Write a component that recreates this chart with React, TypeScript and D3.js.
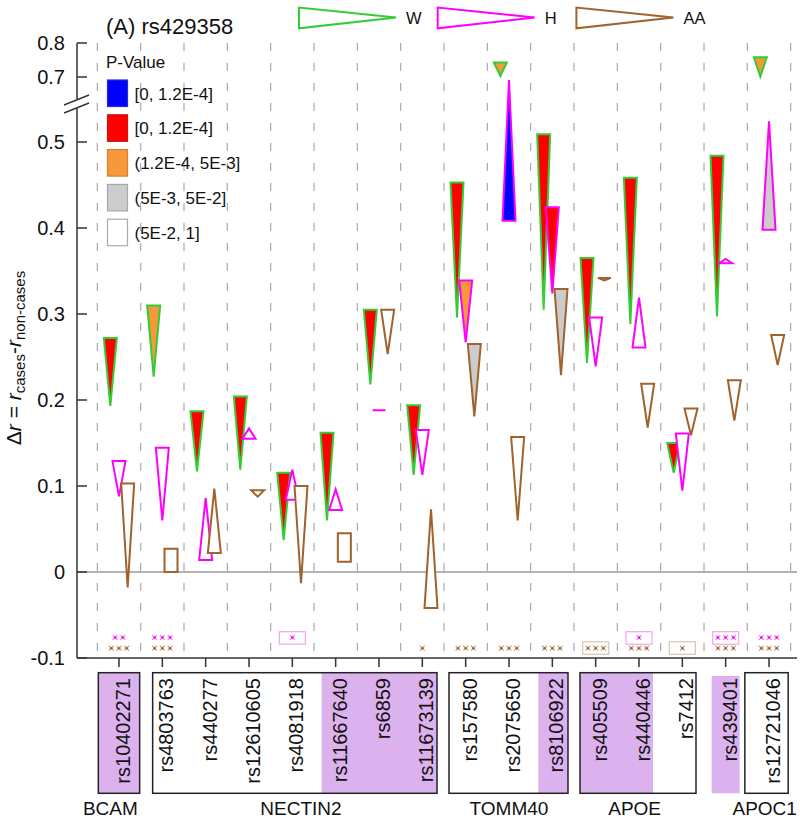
import React from 'react';
import * as d3 from 'd3';

// ---------- data ----------
const snps = ['rs10402271', 'rs4803763', 'rs440277', 'rs12610605', 'rs4081918', 'rs11667640', 'rs6859', 'rs11673139',
  'rs157580', 'rs2075650', 'rs8106922', 'rs405509', 'rs440446', 'rs7412', 'rs439401', 'rs12721046'];
const genes = ['BCAM', 'NECTIN2', 'TOMM40', 'APOE', 'APOC1'];
const geneFirst = [0, 1, 8, 11, 15];
const geneLast = [0, 7, 10, 13, 15];
const highlighted = ['rs10402271', 'rs11667640', 'rs6859', 'rs11673139', 'rs8106922', 'rs405509', 'rs440446', 'rs439401'];

const groups = ['W', 'H', 'AA'];
// [flat end, tip end, p-value class]
const wDelta: [number, number, string][] = [
  [0.272, 0.193, 'r'], [0.310, 0.227, 'o'], [0.187, 0.117, 'r'], [0.204, 0.119, 'r'],
  [0.1155, 0.037, 'r'], [0.162, 0.060, 'r'], [0.305, 0.218, 'r'], [0.194, 0.113, 'r'],
  [0.453, 0.296, 'r'], [0.743, 0.703, 'o'], [0.509, 0.305, 'r'], [0.365, 0.243, 'r'],
  [0.4585, 0.288, 'r'], [0.150, 0.1155, 'r'], [0.484, 0.297, 'r'], [0.758, 0.701, 'o'],
];
const hDelta: [number, number, string][] = [
  [0.129, 0.088, 'w'], [0.1446, 0.060, 'w'], [0.014, 0.086, 'w'], [0.155, 0.167, 'w'],
  [0.084, 0.119, 'w'], [0.072, 0.096, 'w'], [0.188, 0.188, 'w'], [0.165, 0.113, 'w'],
  [0.339, 0.267, 'o'], [0.4085, 0.691, 'b'], [0.424, 0.324, 'r'], [0.296, 0.239, 'w'],
  [0.261, 0.319, 'w'], [0.161, 0.0946, 'w'], [0.359, 0.364, 'w'], [0.398, 0.524, 'g'],
];
const aaDelta: [number, number, string][] = [
  [0.103, -0.018, 'w'], [0.027, 0.0, 'w'], [0.022, 0.097, 'w'], [0.095, 0.0876, 'w'],
  [0.100, -0.013, 'w'], [0.045, 0.012, 'w'], [0.305, 0.2535, 'w'], [-0.042, 0.073, 'w'],
  [0.265, 0.181, 'g'], [0.157, 0.060, 'w'], [0.329, 0.229, 'g'], [0.342, 0.339, 'w'],
  [0.219, 0.168, 'w'], [0.190, 0.159, 'w'], [0.223, 0.176, 'w'], [0.2756, 0.2407, 'w'],
];
const aaShape = ['t', 'r', 't', 't', 't', 'r', 't', 't', 't', 't', 't', 't', 't', 't', 't', 't'];

const hStars = [2, 3, 0, 0, 1, 0, 0, 0, 0, 0, 0, 0, 1, 0, 3, 3];
const hBoxed = [0, 0, 0, 0, 1, 0, 0, 0, 0, 0, 0, 0, 1, 0, 1, 0];
const aaStars = [3, 3, 0, 0, 0, 0, 0, 1, 3, 3, 3, 3, 3, 1, 3, 3];
const aaBoxed = [0, 0, 0, 0, 0, 0, 0, 0, 0, 0, 0, 1, 0, 1, 0, 0];

const pClasses = ['b', 'r', 'o', 'g', 'w'];
const pLabels = ['[0, 1.2E-4]', '[0, 1.2E-4]', '(1.2E-4, 5E-3]', '(5E-3, 5E-2]', '(5E-2, 1]'];
const yTicks = [-0.1, 0, 0.1, 0.2, 0.3, 0.4, 0.5, 0.7, 0.8];

// ---------- styles ----------
const FONT = 'Liberation Sans, Arial, Helvetica, sans-serif';
const fillOf: Record<string, string> = { b: '#0000ff', r: '#ff0000', o: '#f7993a', g: '#cccccc', w: '#ffffff' };
const swatchStroke: Record<string, string> = { b: '#2a2ad0', r: '#d01010', o: '#d88030', g: '#a8a8a8', w: '#aaaaaa' };
const groupColor: Record<string, string> = { W: '#33cc33', H: '#ff00ff', AA: '#a0632d' };
const PURPLE = '#dcb2ee';
const geneLabelPos = [-0.2, 4.2, 9.0, 11.9, 14.9];
const boxPad = [[1, 1], [12, 7], [5, 6], [6, 8], [-2.5, 2.5]];

export default function App() {
  const W = 800, H = 820;
  const x = d3.scaleBand<string>().domain(snps).range([97.33, 790.67]).padding(0);
  const bw = x.bandwidth();
  const cx = (s: string) => (x(s) as number) + bw / 2;
  const y = d3.scaleLinear().domain([-0.1, 0.54, 0.64, 0.8]).range([658, 107.6, 97.4, 43]);

  const axisLeft = 77, axisRight = 797, axisBottom = y(-0.1);
  const triW = bw * 0.3;
  const offsets = [-bw * 0.2, 0, bw * 0.2];
  const series = [wDelta, hDelta, aaDelta];

  const shapePath = (c: number, yf: number, yt: number, rect: boolean) =>
    rect
      ? `M${c - triW / 2},${yf}L${c + triW / 2},${yf}L${c + triW / 2},${yt}L${c - triW / 2},${yt}Z`
      : `M${c - triW / 2},${yf}L${c + triW / 2},${yf}L${c},${yt}Z`;

  const boundaries = d3.range(snps.length + 1).map(k => 97.33 + k * bw);

  const markers = (c: number, yy: number, n: number, col: string, dot: string, key: string) =>
    d3.range(n).map(i => {
      const mx = c + (i - (n - 1) / 2) * 7.7;
      const r = 2.4;
      return (
        <g key={key + i}>
          <path d={`M${mx - r},${yy - r}L${mx + r},${yy + r}M${mx - r},${yy + r}L${mx + r},${yy - r}`} stroke={col} strokeWidth={1.3} />
          <circle cx={mx} cy={yy} r={1.3} fill={dot} />
        </g>
      );
    });

  // highlight runs
  const hlRects: { x0: number; x1: number; y0: number }[] = [];
  snps.forEach((s, i) => {
    if (!highlighted.includes(s)) return;
    const gi = genes.findIndex((_, g) => i >= geneFirst[g] && i <= geneLast[g]);
    let x0 = cx(s) - 14, x1 = cx(s) + 14, y0 = 676;
    if (gi >= 0) {
      y0 = 672.7;
      if (i === geneFirst[gi]) x0 = (x(snps[geneFirst[gi]]) as number) + boxPad[gi][0];
      if (i === geneLast[gi]) x1 = (x(snps[geneLast[gi]]) as number) + bw - boxPad[gi][1];
      const prev = hlRects[hlRects.length - 1];
      if (prev && i > 0 && highlighted.includes(snps[i - 1]) && i - 1 >= geneFirst[gi]) {
        prev.x1 = x1;
        return;
      }
    }
    hlRects.push({ x0, x1, y0 });
  });

  const legendTop = 80, legendStep = 34.8;

  return (
    <svg width={W} height={H} style={{ position: 'absolute', left: 0, top: 0, background: '#fff' }} fontFamily={FONT}>
      <rect x={0} y={0} width={W} height={H} fill="#fff" />
      {/* dashed separators */}
      {boundaries.map((bx, i) => (
        <line key={'d' + i} x1={bx} x2={bx} y1={43} y2={axisBottom} stroke="#aaaaaa" strokeWidth={1.2} strokeDasharray="8,12" />
      ))}
      {/* zero line */}
      <line x1={axisLeft} x2={axisRight} y1={y(0)} y2={y(0)} stroke="#9a9a9a" strokeWidth={1.3} />

      {/* title */}
      <text x={106} y={34} fontSize={22} fill="#111">(A) rs429358</text>

      {/* P-value legend */}
      <text x={106} y={68} fontSize={17} fill="#111">P-Value</text>
      {pClasses.map((p, i) => (
        <g key={'lg' + i}>
          <rect x={107.5} y={legendTop + i * legendStep} width={20} height={26.5} fill={fillOf[p]} stroke={swatchStroke[p]} strokeWidth={1.2} />
          <text x={134.5} y={legendTop + i * legendStep + 19.5} fontSize={17} fill="#111">{pLabels[i]}</text>
        </g>
      ))}

      {/* top group legend */}
      {groups.map((g, i) => {
        const lx = 299 + i * 138.7;
        return (
          <g key={'gl' + g}>
            <path d={`M${lx},7.5L${lx},28.3L${lx + 97},17.5Z`} fill="#fff" stroke={groupColor[g]} strokeWidth={2} />
            <text x={lx + 107} y={23.5} fontSize={16.5} fill="#111">{g}</text>
          </g>
        );
      })}

      {/* shapes */}
      {groups.map((g, gi) =>
        series[gi].map((d, i) => {
          const c = cx(snps[i]) + offsets[gi];
          const rect = g === 'AA' && aaShape[i] === 'r';
          return (
            <path key={g + i} d={shapePath(c, y(d[0]), y(d[1]), rect)} fill={fillOf[d[2]]} stroke={groupColor[g]} strokeWidth={2} />
          );
        })
      )}

      {/* significance markers */}
      {snps.map((s, i) => (
        <g key={'m' + i}>
          {hBoxed[i] ? <rect x={cx(s) - 13} y={631.7} width={26} height={12.5} fill="none" stroke="#f0a6f0" strokeWidth={1.2} /> : null}
          {aaBoxed[i] ? <rect x={cx(s) - 13} y={641.8} width={26} height={12.5} fill="none" stroke="#d8c6b6" strokeWidth={1.2} /> : null}
          {markers(cx(s), 637.5, hStars[i], '#ee80ee', '#ff00ff', 'h' + i)}
          {markers(cx(s), 648.2, aaStars[i], '#c8a888', '#a0632d', 'a' + i)}
        </g>
      ))}

      {/* y axis */}
      <line x1={axisLeft} x2={axisLeft} y1={43} y2={99} stroke="#333" strokeWidth={1.5} />
      <line x1={axisLeft} x2={axisLeft} y1={108} y2={axisBottom} stroke="#333" strokeWidth={1.5} />
      <line x1={64} y1={113} x2={89} y2={103} stroke="#333" strokeWidth={1.5} />
      <line x1={64} y1={105} x2={89} y2={95} stroke="#333" strokeWidth={1.5} />
      {yTicks.map(t => (
        <g key={'yt' + t}>
          <line x1={axisLeft} x2={axisLeft + 10} y1={y(t)} y2={y(t)} stroke="#333" strokeWidth={1.5} />
          <text x={65} y={y(t)} dy="0.36em" textAnchor="end" fontSize={20} fill="#111">{t === 0 ? '0' : t.toString()}</text>
        </g>
      ))}
      <text transform="translate(21,358) rotate(-90)" textAnchor="middle" fontSize={21} fill="#111">
        {'Δ'}<tspan fontStyle="italic">r</tspan>{' = '}<tspan fontStyle="italic">r</tspan>
        <tspan fontSize={15} dy={4}>cases</tspan><tspan dy={-4}>-</tspan><tspan fontStyle="italic">r</tspan>
        <tspan fontSize={15} dy={4}>non-cases</tspan>
      </text>

      {/* x axis */}
      <line x1={axisLeft} x2={axisRight} y1={axisBottom} y2={axisBottom} stroke="#333" strokeWidth={1.5} />
      {snps.map(s => (
        <line key={'xt' + s} x1={cx(s)} x2={cx(s)} y1={axisBottom} y2={axisBottom + 9} stroke="#333" strokeWidth={1.5} />
      ))}

      {/* highlight fills */}
      {hlRects.map((r, i) => (
        <rect key={'hl' + i} x={r.x0} y={r.y0} width={r.x1 - r.x0} height={793.3 - r.y0} fill={PURPLE} />
      ))}
      {/* gene boxes */}
      {genes.map((g, gi) => {
        const x0 = (x(snps[geneFirst[gi]]) as number) + boxPad[gi][0];
        const x1 = (x(snps[geneLast[gi]]) as number) + bw - boxPad[gi][1];
        return (
          <g key={'gb' + g}>
            <rect x={x0} y={672.7} width={x1 - x0} height={120.6} fill="none" stroke="#222" strokeWidth={1.5} />
            <text x={119 + geneLabelPos[gi] * bw} y={815} textAnchor="middle" fontSize={19} fill="#111">{g}</text>
          </g>
        );
      })}
      {/* snp labels */}
      {snps.map(s => (
        <text key={'sl' + s} transform={`translate(${cx(s) + 11},678) rotate(-90)`} textAnchor="end" fontSize={20} fill="#111">{s}</text>
      ))}
    </svg>
  );
}
